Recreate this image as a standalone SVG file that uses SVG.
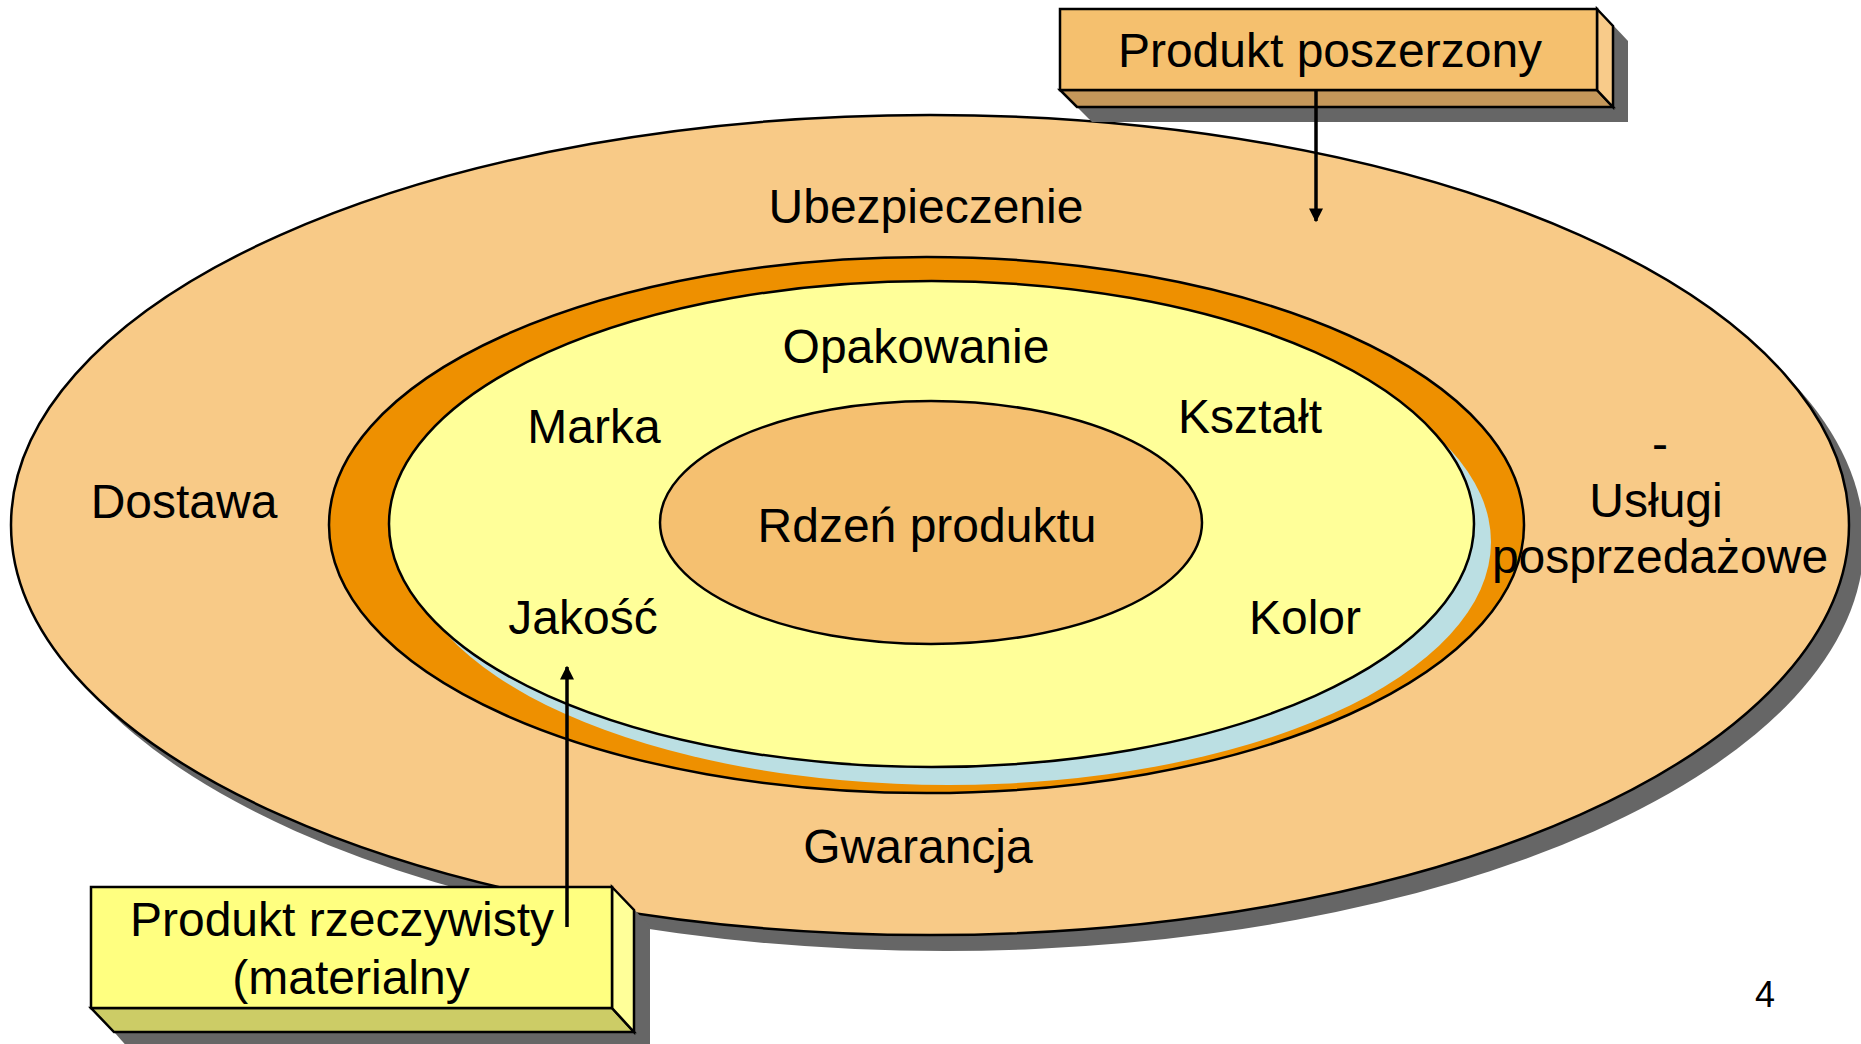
<svg xmlns="http://www.w3.org/2000/svg" width="1861" height="1044" viewBox="0 0 1861 1044">
<style>
  text { font-family: "Liberation Sans", Arial, sans-serif; font-size: 48px; fill: #000; text-anchor: middle; }
  .ring { stroke: #000; stroke-width: 2.5; }
  .edge { stroke: #000; stroke-width: 2.5; stroke-linejoin: miter; }
  .shadow { fill: #666666; stroke: none; }
  .conn { stroke: #000; stroke-width: 3.5; fill: none; }
</style>
<defs>
  <marker id="arrow" viewBox="0 0 10 10" refX="9" refY="5" markerWidth="4" markerHeight="4.5" orient="auto" markerUnits="strokeWidth">
    <path d="M0,0 L10,5 L0,10 z" fill="#000"/>
  </marker>
</defs>
<rect x="0" y="0" width="1861" height="1044" fill="#ffffff"/>

<g id="produkt-poszerzony-ring">
  <ellipse cx="945" cy="541" rx="919" ry="410" class="shadow"/>
  <ellipse cx="930" cy="525" rx="919" ry="410" fill="#F8CA87" class="ring"/>
</g>

<g id="orange-ring">
  <ellipse cx="926.5" cy="525" rx="597.5" ry="268" fill="#EE9000" class="ring"/>
</g>

<g id="produkt-rzeczywisty-ring">
  <ellipse cx="948.5" cy="542" rx="542.5" ry="243" fill="#BBDFE3"/>
  <ellipse cx="931.5" cy="524" rx="542.5" ry="243" fill="#FFFF99" class="ring"/>
  <text x="916" y="363">Opakowanie</text>
  <text x="594" y="443">Marka</text>
  <text x="1250" y="433">Kształt</text>
  <text x="583" y="634">Jakość</text>
  <text x="1305" y="634">Kolor</text>
</g>

<g id="rdzen-produktu">
  <ellipse cx="931" cy="522.5" rx="271" ry="121.5" fill="#F5C070" class="ring"/>
  <text x="927" y="542">Rdzeń produktu</text>
</g>

<g id="produkt-poszerzony-labels">
  <text x="926" y="223">Ubezpieczenie</text>
  <text x="184" y="518">Dostawa</text>
  <text x="918" y="863">Gwarancja</text>
  <text x="1660" y="460">-</text>
  <text x="1656" y="517">Usługi</text>
  <text x="1660" y="573">posprzedażowe</text>
</g>

<g id="box-produkt-poszerzony">
  <polygon class="shadow" points="1075,24 1612,24 1628,41 1628,122 1092,122 1075,105"/>
  <polygon points="1060,90 1597,90 1613,107 1077,107" fill="#C4975A" class="edge"/>
  <polygon points="1597,9 1613,26 1613,107 1597,90" fill="#F8CB8A" class="edge"/>
  <rect x="1060" y="9" width="537" height="81" fill="#F5C06E" class="edge"/>
  <text x="1330" y="67">Produkt poszerzony</text>
</g>

<g id="box-produkt-rzeczywisty">
  <polygon class="shadow" points="107,903 628,903 650,926 650,1050 130,1050 107,1024"/>
  <polygon points="91,1008 612,1008 634,1032 114,1032" fill="#CCCC66" class="edge"/>
  <polygon points="612,887 634,910 634,1032 612,1008" fill="#FFFF99" class="edge"/>
  <rect x="91" y="887" width="521" height="121" fill="#FFFF80" class="edge"/>
  <text x="342" y="936">Produkt rzeczywisty</text>
  <text x="351" y="994">(materialny</text>
</g>

<g id="connectors">
  <line x1="1316" y1="90" x2="1316" y2="221" class="conn" marker-end="url(#arrow)"/>
  <line x1="567" y1="927" x2="567" y2="667" class="conn" marker-end="url(#arrow)"/>
</g>

<text x="1765" y="1007" style="font-size:36px">4</text>
</svg>
